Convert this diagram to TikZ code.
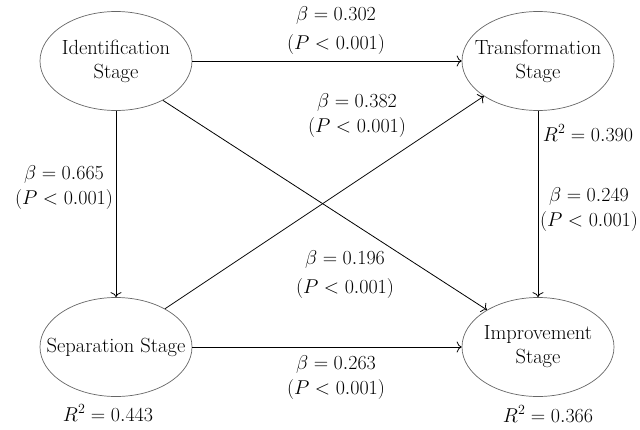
\documentclass[tikz,border=0pt]{standalone}
\usepackage{fix-cm}
\usetikzlibrary{shapes.geometric,arrows.meta}

\begin{document}
\begin{tikzpicture}
    [x=1pt,y=-1pt,font=\fontsize{20}{25}\selectfont,
     stage/.style={ellipse,draw=black!60,line width=.7pt,minimum width=152pt,minimum height=99pt,
       inner sep=-20pt,align=center,font=\fontsize{20.5}{24}\selectfont},
     lbl/.style={inner sep=0pt,align=center},
     link/.style={-{To[length=5pt,width=11pt]},line width=.8pt}]
    \useasboundingbox (0,0) rectangle (640,429);
    \node[stage] (ident) at (116,61) {Identification\\Stage};
    \node[stage] (trans) at (538,61) {Transformation\\Stage};
    \node[stage] (sep) at (116,347) {Separation Stage};
    \node[stage] (impr) at (538,347) {Improvement\\Stage};
    \node[lbl] (b302) at (336,31) {$\beta = 0.302$\\[4pt]$(P < 0.001)$};
    \node[lbl] (b382) at (357,116) {$\beta = 0.382$\\$(P < 0.001)$};
    \node[lbl] (b665) at (64,188) {$\beta = 0.665$\\$(P < 0.001)$};
    \node[lbl] (b249) at (589,210) {$\beta = 0.249$\\$(P < 0.001)$};
    \node[lbl] (b196) at (345,275) {$\beta = 0.196$\\[4pt]$(P < 0.001)$};
    \node[lbl] (b263) at (336,378) {$\beta = 0.263$\\$(P < 0.001)$};
    \node[lbl] (r390) at (588,133) {$R^2 = 0.390$};
    \node[lbl] (r443) at (108,413) {$R^2 = 0.443$};
    \node[lbl] (r366) at (548,414) {$R^2 = 0.366$};
    \draw[link] (ident) -- (trans);
    \draw[link] (ident) -- (sep);
    \draw[link] (trans) -- (impr);
    \draw[link] (sep) -- (impr);
    \draw[link] (ident.-40) -- (impr.144);
    \draw[link] (sep.38) -- (trans.213);
  \end{tikzpicture}
\end{document}
